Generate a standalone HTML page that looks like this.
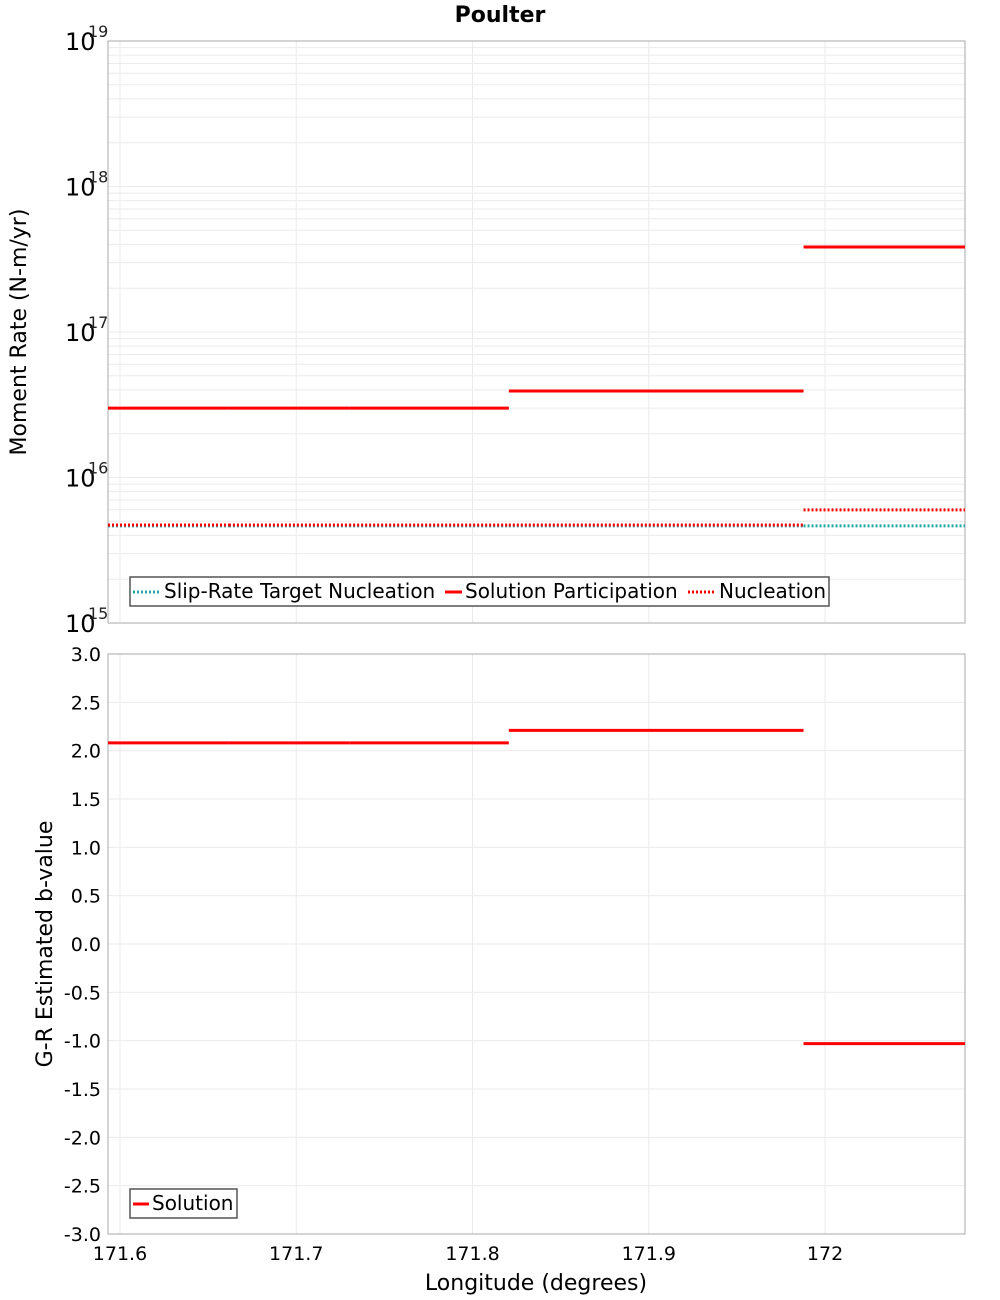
<!DOCTYPE html>
<html><head><meta charset="utf-8"><style>
body{margin:0;background:#fff;}
svg{display:block;font-family:"DejaVu Sans","Liberation Sans",sans-serif;}
</style></head><body>
<svg id="c" width="1000" height="1300" viewBox="0 0 1000 1300"></svg>
<script>
// data
const segEdges = [171.5932, 171.6618, 171.7300, 171.8206, 171.9878, 172.0794];
const participation = [3.0e16, 3.0e16, 3.0e16, 3.93e16, 3.84e17];
const nucleation = [4.72e15, 4.72e15, 4.72e15, 4.72e15, 5.99e15];
const targetNucleation = [4.65e15, 4.65e15, 4.65e15, 4.65e15, 4.65e15];
const bValues = [2.08, 2.08, 2.08, 2.21, -1.03];
const xTicks = [171.6, 171.7, 171.8, 171.9, 172.0];
const xTickLabels = ["171.6", "171.7", "171.8", "171.9", "172"];
const yTopExps = [15, 16, 17, 18, 19];
const yBotTicks = [3.0, 2.5, 2.0, 1.5, 1.0, 0.5, 0.0, -0.5, -1.0, -1.5, -2.0, -2.5, -3.0];

const svg = document.getElementById('c');
const NS = 'http://www.w3.org/2000/svg';
function mk(tag, attrs, parent) {
  const e = document.createElementNS(NS, tag);
  for (const k in attrs) e.setAttribute(k, attrs[k]);
  (parent || svg).appendChild(e);
  return e;
}
const L = 108, R = 965;
const xMin = 171.5932, xMax = 172.0794;
const X = v => L + (v - xMin) / (xMax - xMin) * (R - L);
const T1 = 41, B1 = 623;
const Ylog = v => B1 - (Math.log10(v) - 15) / 4 * (B1 - T1);
const T2 = 654, B2 = 1234;
const Yb = v => B2 - (v + 3) / 6 * (B2 - T2);

let t = mk('text', {x: 500, y: 22, 'text-anchor': 'middle', 'font-size': 22, 'font-weight': 'bold'});
t.textContent = 'Poulter';



const g1 = mk('g', {});


for (let e = 15; e < 19; e++) for (let m = 1; m <= 9; m++) {
  const y = Ylog(m * Math.pow(10, e));
  mk('line', {x1: L, x2: R, y1: y, y2: y, stroke: '#ebebeb', 'stroke-width': 1}, g1);
}
xTicks.forEach(v => mk('line', {x1: X(v), x2: X(v), y1: T1, y2: B1, stroke: '#ebebeb'}, g1));
const g2 = mk('g', {});


yBotTicks.forEach(v => mk('line', {x1: L, x2: R, y1: Yb(v), y2: Yb(v), stroke: '#ebebeb'}, g2));
xTicks.forEach(v => mk('line', {x1: X(v), x2: X(v), y1: T2, y2: B2, stroke: '#ebebeb'}, g2));

let f = mk('rect', {x: L, y: T1, width: R - L, height: B1 - T1, fill: 'none', stroke: '#aaa'});


f = mk('rect', {x: L, y: T2, width: R - L, height: B2 - T2, fill: 'none', stroke: '#aaa'});



yTopExps.forEach(e => {
  const y = Ylog(Math.pow(10, e));
  const tx = mk('text', {x: 65, y: y + 9, 'font-size': 24});
  tx.textContent = '10';
  
  
  const sx = mk('text', {x: 88, y: y - 4, 'font-size': 16, fill: '#222'});
  sx.textContent = String(e);
  
  
});
yBotTicks.forEach(v => {
  const tx = mk('text', {x: 101, y: Yb(v) + 7, 'font-size': 19, 'text-anchor': 'end'});
  tx.textContent = v.toFixed(1);
  
  
});
xTicks.forEach((v, i) => {
  const tx = mk('text', {x: X(v), y: 1260, 'font-size': 19, 'text-anchor': 'middle'});
  tx.textContent = xTickLabels[i];
  
  
});
t = mk('text', {x: 536, y: 1290, 'font-size': 22, 'text-anchor': 'middle'});
t.textContent = 'Longitude (degrees)';


t = mk('text', {x: 0, y: 0, 'font-size': 22, 'text-anchor': 'middle', transform: 'translate(26,332) rotate(-90)'});
t.textContent = 'Moment Rate (N-m/yr)';


t = mk('text', {x: 0, y: 0, 'font-size': 22, 'text-anchor': 'middle', transform: 'translate(52,944) rotate(-90)'});
t.textContent = 'G-R Estimated b-value';



function drawSeg(arr, yf, color, dash, name) {
  const g = mk('g', {});
  
  
  arr.forEach((v, i) => {
    const a = {x1: X(segEdges[i]), x2: X(segEdges[i + 1]), y1: yf(v), y2: yf(v), stroke: color, 'stroke-width': 3};
    if (dash) a['stroke-dasharray'] = '2,2';
    const l = mk('line', a, g);
    
    
  });
}
drawSeg(targetNucleation, Ylog, '#20a8a8', true, 'slip-rate-target-nucleation');
drawSeg(participation, Ylog, '#ff0000', false, 'solution-participation');
drawSeg(nucleation, Ylog, '#ff0000', true, 'nucleation');
drawSeg(bValues, Yb, '#ff0000', false, 'solution-b-value');

function legend(x, y, w, items, name) {
  const g = mk('g', {});
  
  
  mk('rect', {x: x, y: y, width: w, height: 29, fill: '#fff', stroke: '#555', 'stroke-width': 1.5}, g);
  items.forEach(it => {
    const a = {x1: it.x, x2: it.x + it.w, y1: y + 15, y2: y + 15, stroke: it.c, 'stroke-width': 3};
    if (it.d) a['stroke-dasharray'] = '2,2';
    mk('line', a, g);
    const tx = mk('text', {x: it.x + it.w + 3, y: y + 21, 'font-size': 20}, g);
    tx.textContent = it.t;
    
    
  });
}
legend(130, 577, 699, [
  {x: 133, w: 28, c: '#20a8a8', d: true, t: 'Slip-Rate Target Nucleation'},
  {x: 445, w: 17, c: '#ff0000', d: false, t: 'Solution Participation'},
  {x: 688, w: 28, c: '#ff0000', d: true, t: 'Nucleation'}
], 'top-legend');
legend(130, 1189, 107, [
  {x: 133, w: 16, c: '#ff0000', d: false, t: 'Solution'}
], 'bottom-legend');
</script>
</body></html>
